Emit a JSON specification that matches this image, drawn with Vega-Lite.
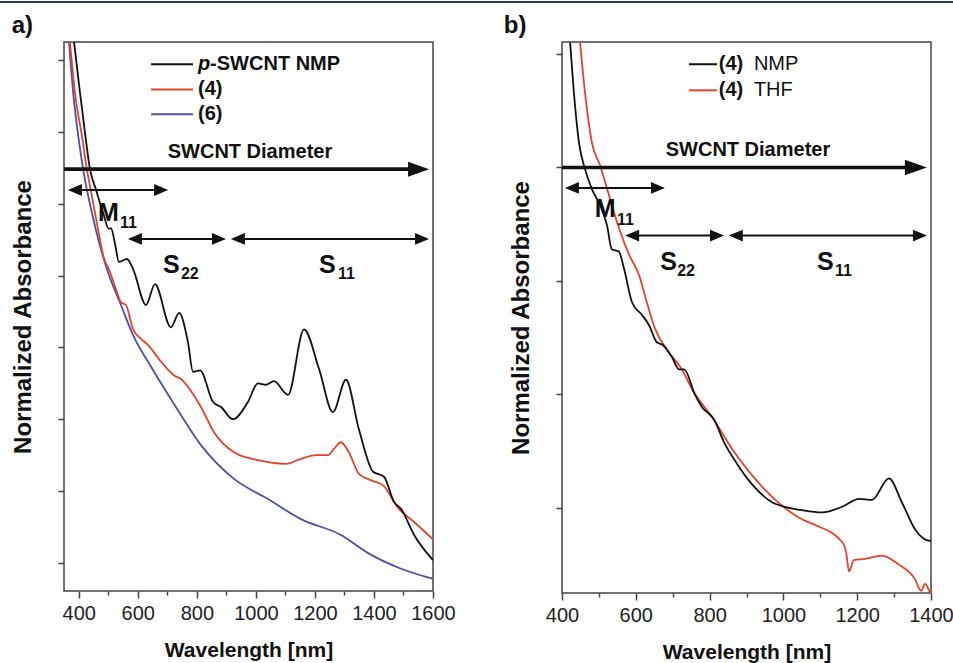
{
  "$schema": "https://vega.github.io/schema/vega-lite/v6.json",
  "padding": {"top": 1, "left": 0, "right": 0, "bottom": 0},
  "background": "white",
  "config": {
    "font": "Liberation Sans",
    "view": {"stroke": "#444444", "strokeWidth": 1.5}
  },
  "datasets": {
    "curvesA": [
      {"s": "(6)", "nm": 367, "v": 7.25}, {"s": "(6)", "nm": 381, "v": 6.55}, {"s": "(6)", "nm": 401, "v": 5.86}, {"s": "(6)", "nm": 418, "v": 5.40}, {"s": "(6)", "nm": 442, "v": 4.92}, {"s": "(6)", "nm": 469, "v": 4.46}, {"s": "(6)", "nm": 502, "v": 4.01}, {"s": "(6)", "nm": 543, "v": 3.59}, {"s": "(6)", "nm": 584, "v": 3.17}, {"s": "(6)", "nm": 645, "v": 2.73}, {"s": "(6)", "nm": 723, "v": 2.21}, {"s": "(6)", "nm": 814, "v": 1.64}, {"s": "(6)", "nm": 926, "v": 1.17}, {"s": "(6)", "nm": 1041, "v": 0.89}, {"s": "(6)", "nm": 1153, "v": 0.61}, {"s": "(6)", "nm": 1288, "v": 0.39}, {"s": "(6)", "nm": 1383, "v": 0.13}, {"s": "(6)", "nm": 1492, "v": -0.08}, {"s": "(6)", "nm": 1600, "v": -0.22},
      {"s": "(4)", "nm": 370, "v": 7.25}, {"s": "(4)", "nm": 387, "v": 6.55}, {"s": "(4)", "nm": 414, "v": 5.86}, {"s": "(4)", "nm": 425, "v": 5.54}, {"s": "(4)", "nm": 442, "v": 5.16}, {"s": "(4)", "nm": 465, "v": 4.65}, {"s": "(4)", "nm": 486, "v": 4.23}, {"s": "(4)", "nm": 502, "v": 4.09}, {"s": "(4)", "nm": 526, "v": 3.81}, {"s": "(4)", "nm": 543, "v": 3.63}, {"s": "(4)", "nm": 560, "v": 3.59}, {"s": "(4)", "nm": 577, "v": 3.35}, {"s": "(4)", "nm": 584, "v": 3.25}, {"s": "(4)", "nm": 611, "v": 3.12}, {"s": "(4)", "nm": 635, "v": 3.03}, {"s": "(4)", "nm": 679, "v": 2.80}, {"s": "(4)", "nm": 723, "v": 2.61}, {"s": "(4)", "nm": 746, "v": 2.56}, {"s": "(4)", "nm": 804, "v": 2.24}, {"s": "(4)", "nm": 814, "v": 2.17}, {"s": "(4)", "nm": 858, "v": 1.82}, {"s": "(4)", "nm": 926, "v": 1.54}, {"s": "(4)", "nm": 1007, "v": 1.43}, {"s": "(4)", "nm": 1102, "v": 1.38}, {"s": "(4)", "nm": 1153, "v": 1.45}, {"s": "(4)", "nm": 1204, "v": 1.50}, {"s": "(4)", "nm": 1244, "v": 1.50}, {"s": "(4)", "nm": 1265, "v": 1.59}, {"s": "(4)", "nm": 1288, "v": 1.68}, {"s": "(4)", "nm": 1315, "v": 1.54}, {"s": "(4)", "nm": 1349, "v": 1.24}, {"s": "(4)", "nm": 1390, "v": 1.15}, {"s": "(4)", "nm": 1431, "v": 1.08}, {"s": "(4)", "nm": 1481, "v": 0.77}, {"s": "(4)", "nm": 1536, "v": 0.57}, {"s": "(4)", "nm": 1600, "v": 0.33},
      {"s": "p-SWCNT NMP", "nm": 384, "v": 7.25}, {"s": "p-SWCNT NMP", "nm": 404, "v": 6.55}, {"s": "p-SWCNT NMP", "nm": 425, "v": 5.86}, {"s": "p-SWCNT NMP", "nm": 438, "v": 5.48}, {"s": "p-SWCNT NMP", "nm": 458, "v": 5.20}, {"s": "p-SWCNT NMP", "nm": 482, "v": 4.88}, {"s": "p-SWCNT NMP", "nm": 502, "v": 4.65}, {"s": "p-SWCNT NMP", "nm": 509, "v": 4.66}, {"s": "p-SWCNT NMP", "nm": 523, "v": 4.44}, {"s": "p-SWCNT NMP", "nm": 536, "v": 4.19}, {"s": "p-SWCNT NMP", "nm": 563, "v": 4.23}, {"s": "p-SWCNT NMP", "nm": 584, "v": 4.09}, {"s": "p-SWCNT NMP", "nm": 628, "v": 3.59}, {"s": "p-SWCNT NMP", "nm": 658, "v": 3.88}, {"s": "p-SWCNT NMP", "nm": 712, "v": 3.28}, {"s": "p-SWCNT NMP", "nm": 740, "v": 3.48}, {"s": "p-SWCNT NMP", "nm": 770, "v": 3.07}, {"s": "p-SWCNT NMP", "nm": 787, "v": 2.66}, {"s": "p-SWCNT NMP", "nm": 811, "v": 2.68}, {"s": "p-SWCNT NMP", "nm": 855, "v": 2.24}, {"s": "p-SWCNT NMP", "nm": 882, "v": 2.17}, {"s": "p-SWCNT NMP", "nm": 922, "v": 2.00}, {"s": "p-SWCNT NMP", "nm": 973, "v": 2.24}, {"s": "p-SWCNT NMP", "nm": 1007, "v": 2.50}, {"s": "p-SWCNT NMP", "nm": 1034, "v": 2.48}, {"s": "p-SWCNT NMP", "nm": 1061, "v": 2.53}, {"s": "p-SWCNT NMP", "nm": 1109, "v": 2.34}, {"s": "p-SWCNT NMP", "nm": 1163, "v": 3.25}, {"s": "p-SWCNT NMP", "nm": 1214, "v": 2.70}, {"s": "p-SWCNT NMP", "nm": 1261, "v": 2.10}, {"s": "p-SWCNT NMP", "nm": 1305, "v": 2.55}, {"s": "p-SWCNT NMP", "nm": 1349, "v": 1.86}, {"s": "p-SWCNT NMP", "nm": 1397, "v": 1.27}, {"s": "p-SWCNT NMP", "nm": 1434, "v": 1.20}, {"s": "p-SWCNT NMP", "nm": 1468, "v": 0.85}, {"s": "p-SWCNT NMP", "nm": 1492, "v": 0.75}, {"s": "p-SWCNT NMP", "nm": 1536, "v": 0.39}, {"s": "p-SWCNT NMP", "nm": 1600, "v": 0.04}
    ],
    "curvesB": [
      {"s": "(4) THF", "nm": 449, "v": 4.10}, {"s": "(4) THF", "nm": 462, "v": 3.67}, {"s": "(4) THF", "nm": 481, "v": 3.22}, {"s": "(4) THF", "nm": 503, "v": 3.02}, {"s": "(4) THF", "nm": 527, "v": 2.76}, {"s": "(4) THF", "nm": 555, "v": 2.46}, {"s": "(4) THF", "nm": 582, "v": 2.23}, {"s": "(4) THF", "nm": 609, "v": 2.05}, {"s": "(4) THF", "nm": 630, "v": 1.81}, {"s": "(4) THF", "nm": 652, "v": 1.58}, {"s": "(4) THF", "nm": 690, "v": 1.37}, {"s": "(4) THF", "nm": 725, "v": 1.22}, {"s": "(4) THF", "nm": 752, "v": 1.05}, {"s": "(4) THF", "nm": 815, "v": 0.76}, {"s": "(4) THF", "nm": 861, "v": 0.52}, {"s": "(4) THF", "nm": 907, "v": 0.32}, {"s": "(4) THF", "nm": 996, "v": 0.02}, {"s": "(4) THF", "nm": 1050, "v": -0.10}, {"s": "(4) THF", "nm": 1086, "v": -0.15}, {"s": "(4) THF", "nm": 1159, "v": -0.30}, {"s": "(4) THF", "nm": 1170, "v": -0.39}, {"s": "(4) THF", "nm": 1178, "v": -0.56}, {"s": "(4) THF", "nm": 1191, "v": -0.46}, {"s": "(4) THF", "nm": 1221, "v": -0.45}, {"s": "(4) THF", "nm": 1267, "v": -0.42}, {"s": "(4) THF", "nm": 1313, "v": -0.50}, {"s": "(4) THF", "nm": 1357, "v": -0.63}, {"s": "(4) THF", "nm": 1373, "v": -0.73}, {"s": "(4) THF", "nm": 1384, "v": -0.67}, {"s": "(4) THF", "nm": 1397, "v": -0.74}, {"s": "(4) THF", "nm": 1400, "v": -0.75},
      {"s": "(4) NMP", "nm": 422, "v": 4.10}, {"s": "(4) NMP", "nm": 432, "v": 3.67}, {"s": "(4) NMP", "nm": 446, "v": 3.22}, {"s": "(4) NMP", "nm": 462, "v": 2.99}, {"s": "(4) NMP", "nm": 481, "v": 2.81}, {"s": "(4) NMP", "nm": 503, "v": 2.67}, {"s": "(4) NMP", "nm": 522, "v": 2.49}, {"s": "(4) NMP", "nm": 535, "v": 2.28}, {"s": "(4) NMP", "nm": 554, "v": 2.26}, {"s": "(4) NMP", "nm": 568, "v": 2.11}, {"s": "(4) NMP", "nm": 590, "v": 1.81}, {"s": "(4) NMP", "nm": 617, "v": 1.70}, {"s": "(4) NMP", "nm": 636, "v": 1.61}, {"s": "(4) NMP", "nm": 657, "v": 1.46}, {"s": "(4) NMP", "nm": 671, "v": 1.44}, {"s": "(4) NMP", "nm": 698, "v": 1.33}, {"s": "(4) NMP", "nm": 717, "v": 1.22}, {"s": "(4) NMP", "nm": 731, "v": 1.22}, {"s": "(4) NMP", "nm": 760, "v": 1.00}, {"s": "(4) NMP", "nm": 779, "v": 0.89}, {"s": "(4) NMP", "nm": 812, "v": 0.78}, {"s": "(4) NMP", "nm": 839, "v": 0.58}, {"s": "(4) NMP", "nm": 874, "v": 0.39}, {"s": "(4) NMP", "nm": 920, "v": 0.19}, {"s": "(4) NMP", "nm": 969, "v": 0.05}, {"s": "(4) NMP", "nm": 1004, "v": 0.01}, {"s": "(4) NMP", "nm": 1050, "v": -0.02}, {"s": "(4) NMP", "nm": 1105, "v": -0.04}, {"s": "(4) NMP", "nm": 1159, "v": 0.01}, {"s": "(4) NMP", "nm": 1205, "v": 0.08}, {"s": "(4) NMP", "nm": 1240, "v": 0.07}, {"s": "(4) NMP", "nm": 1286, "v": 0.26}, {"s": "(4) NMP", "nm": 1321, "v": 0.05}, {"s": "(4) NMP", "nm": 1357, "v": -0.19}, {"s": "(4) NMP", "nm": 1397, "v": -0.29}, {"s": "(4) NMP", "nm": 1400, "v": -0.29}
    ],
    "bigLineA": [{"nm": 350, "nm2": 1551, "v": 5.48}],
    "bigHeadA": [{"nm": 1551, "v": 5.48}],
    "thinLinesA": [{"nm": 387, "nm2": 679, "v": 5.19}, {"nm": 590, "nm2": 875, "v": 4.51}, {"nm": 939, "nm2": 1563, "v": 4.51}],
    "headsA": [{"nm": 387, "v": 5.19, "dir": "left"}, {"nm": 679, "v": 5.19, "dir": "right"}, {"nm": 590, "v": 4.51, "dir": "left"}, {"nm": 875, "v": 4.51, "dir": "right"}, {"nm": 939, "v": 4.51, "dir": "left"}, {"nm": 1563, "v": 4.51, "dir": "right"}],
    "diamA": [{"t": "SWCNT Diameter", "nm": 980, "v": 5.72}],
    "lettersA": [{"t": "M", "nm": 465, "v": 4.87}, {"t": "S", "nm": 685, "v": 4.14}, {"t": "S", "nm": 1214, "v": 4.14}],
    "subsA": [{"t": "11", "nm": 540, "v": 4.73}, {"t": "22", "nm": 746, "v": 4.02}, {"t": "11", "nm": 1278, "v": 4.02}],
    "legLinesA": [{"s": "p-SWCNT NMP", "nm": 645, "nm2": 787, "v": 6.94}, {"s": "(4)", "nm": 645, "nm2": 787, "v": 6.59}, {"s": "(6)", "nm": 645, "nm2": 787, "v": 6.245}],
    "legTextA": [{"t": "-SWCNT NMP", "nm": 845, "v": 6.94}, {"t": "(4)", "nm": 804, "v": 6.59}, {"t": "(6)", "nm": 804, "v": 6.245}],
    "legItalicA": [{"t": "p", "nm": 804, "v": 6.94}],
    "bigLineB": [{"nm": 400, "nm2": 1359, "v": 3.0}],
    "bigHeadB": [{"nm": 1359, "v": 3.0}],
    "thinLinesB": [{"nm": 427, "nm2": 660, "v": 2.82}, {"nm": 590, "nm2": 820, "v": 2.40}, {"nm": 871, "nm2": 1370, "v": 2.40}],
    "headsB": [{"nm": 427, "v": 2.82, "dir": "left"}, {"nm": 660, "v": 2.82, "dir": "right"}, {"nm": 590, "v": 2.40, "dir": "left"}, {"nm": 820, "v": 2.40, "dir": "right"}, {"nm": 871, "v": 2.40, "dir": "left"}, {"nm": 1370, "v": 2.40, "dir": "right"}],
    "diamB": [{"t": "SWCNT Diameter", "nm": 904, "v": 3.15}],
    "lettersB": [{"t": "M", "nm": 489, "v": 2.63}, {"t": "S", "nm": 666, "v": 2.17}, {"t": "S", "nm": 1091, "v": 2.17}],
    "subsB": [{"t": "11", "nm": 549, "v": 2.54}, {"t": "22", "nm": 712, "v": 2.09}, {"t": "11", "nm": 1140, "v": 2.09}],
    "legLinesB": [{"s": "(4) NMP", "nm": 744, "nm2": 820, "v": 3.91}, {"s": "(4) THF", "nm": 744, "nm2": 820, "v": 3.68}],
    "legBoldB": [{"t": "(4)", "nm": 825, "v": 3.91}, {"t": "(4)", "nm": 825, "v": 3.68}],
    "legPlainB": [{"t": "NMP", "nm": 920, "v": 3.91}, {"t": "THF", "nm": 920, "v": 3.68}]
  },
  "spacing": 10,
  "vconcat": [
    {
      "width": 953,
      "height": 2,
      "data": {"values": [{"a": 0}]},
      "mark": {"type": "point", "opacity": 0, "size": 1},
      "encoding": {},
      "view": {"fill": "#283579", "stroke": null}
    },
    {
      "spacing": 10,
      "resolve": {"scale": {"color": "independent", "shape": "independent", "x": "independent", "y": "independent"}},
      "hconcat": [
        {
          "width": 1,
          "height": 1,
          "data": {"values": [{"a": 0}]},
          "mark": {"type": "point", "opacity": 0, "size": 1},
          "encoding": {},
          "view": {"stroke": null}
        },
        {
          "spacing": 47,
          "resolve": {"scale": {"color": "independent", "shape": "independent", "x": "independent", "y": "independent"}},
          "hconcat": [
            {
              "width": 369,
              "height": 549,
              "title": {"text": "a)", "anchor": "start", "frame": "bounds", "fontSize": 24, "fontWeight": "bold", "offset": -15, "baseline": "alphabetic", "color": "#111111"},
              "encoding": {
                "x": {"field": "nm", "type": "quantitative", "scale": {"domain": [350, 1600], "nice": false, "zero": false},
                  "axis": {"values": [400, 500, 600, 700, 800, 900, 1000, 1100, 1200, 1300, 1400, 1500, 1600], "format": "d", "labelExpr": "datum.value % 200 == 0 ? datum.label : ''", "tickSize": {"condition": {"test": "datum.value % 200 == 0", "value": 7}, "value": 4}, "tickWidth": 1.5, "tickColor": "#444444", "domain": false, "grid": false, "labelFontSize": 20, "labelPadding": 5, "labelColor": "#222222", "labelFlush": false, "labelOverlap": false, "title": "Wavelength [nm]", "titleFontSize": 21, "titleFontWeight": "bold", "titlePadding": 16, "titleColor": "#111111"}},
                "y": {"field": "v", "type": "quantitative", "scale": {"domain": [-0.39, 7.25], "nice": false, "zero": false},
                  "axis": {"values": [0, 1, 2, 3, 4, 5, 6, 7], "labels": false, "tickSize": 6, "tickWidth": 1.5, "tickColor": "#444444", "domain": false, "grid": false, "title": "Normalized Absorbance", "titleFontSize": 24, "titleFontWeight": "bold", "titlePadding": 21.5, "titleColor": "#111111"}}
              },
              "layer": [
                {"data": {"name": "curvesA"}, "mark": {"type": "line", "interpolate": "monotone", "strokeWidth": 1.8, "clip": true},
                  "encoding": {"color": {"field": "s", "type": "nominal", "scale": {"domain": ["(6)", "(4)", "p-SWCNT NMP"], "range": ["#4f4fa8", "#e2432f", "#111111"]}, "legend": null}}},
                {"data": {"name": "bigLineA"}, "mark": {"type": "rule", "strokeWidth": 3.7, "color": "#111111"}, "encoding": {"x2": {"field": "nm2"}}},
                {"data": {"name": "bigHeadA"}, "mark": {"type": "point", "shape": "M1,0L-1,-0.714L-1,0.714Z", "size": 441, "filled": true, "opacity": 1, "color": "#111111"}},
                {"data": {"name": "thinLinesA"}, "mark": {"type": "rule", "strokeWidth": 2, "color": "#111111"}, "encoding": {"x2": {"field": "nm2"}}},
                {"data": {"name": "headsA"}, "mark": {"type": "point", "size": 196, "filled": true, "opacity": 1, "color": "#111111"},
                  "encoding": {"shape": {"field": "dir", "type": "nominal", "scale": {"domain": ["left", "right"], "range": ["M-1,0L1,-0.85L1,0.85Z", "M1,0L-1,-0.85L-1,0.85Z"]}, "legend": null}}},
                {"data": {"name": "diamA"}, "mark": {"type": "text", "fontSize": 20, "fontWeight": "bold", "align": "center", "baseline": "middle", "color": "#111111"}, "encoding": {"text": {"field": "t"}}},
                {"data": {"name": "lettersA"}, "mark": {"type": "text", "fontSize": 25, "fontWeight": "bold", "align": "left", "baseline": "middle", "color": "#111111"}, "encoding": {"text": {"field": "t"}}},
                {"data": {"name": "subsA"}, "mark": {"type": "text", "fontSize": 16, "fontWeight": "bold", "align": "left", "baseline": "middle", "color": "#111111"}, "encoding": {"text": {"field": "t"}}},
                {"data": {"name": "legLinesA"}, "mark": {"type": "rule", "strokeWidth": 2},
                  "encoding": {"x2": {"field": "nm2"}, "color": {"field": "s", "type": "nominal", "scale": {"domain": ["(6)", "(4)", "p-SWCNT NMP"], "range": ["#4f4fa8", "#e2432f", "#111111"]}, "legend": null}}},
                {"data": {"name": "legTextA"}, "mark": {"type": "text", "fontSize": 20, "fontWeight": "bold", "align": "left", "baseline": "middle", "color": "#111111"}, "encoding": {"text": {"field": "t"}}},
                {"data": {"name": "legItalicA"}, "mark": {"type": "text", "fontSize": 20, "fontWeight": "bold", "fontStyle": "italic", "align": "left", "baseline": "middle", "color": "#111111"}, "encoding": {"text": {"field": "t"}}}
              ]
            },
            {
              "width": 369,
              "height": 551,
              "title": {"text": "b)", "anchor": "start", "frame": "bounds", "fontSize": 24, "fontWeight": "bold", "offset": -15, "baseline": "alphabetic", "color": "#111111", "dx": -6},
              "encoding": {
                "x": {"field": "nm", "type": "quantitative", "scale": {"domain": [400, 1400], "nice": false, "zero": false},
                  "axis": {"values": [400, 500, 600, 700, 800, 900, 1000, 1100, 1200, 1300, 1400], "format": "d", "labelExpr": "datum.value % 200 == 0 ? datum.label : ''", "tickSize": {"condition": {"test": "datum.value % 200 == 0", "value": 7}, "value": 4}, "tickWidth": 1.5, "tickColor": "#444444", "domain": false, "grid": false, "labelFontSize": 20, "labelPadding": 5, "labelColor": "#222222", "labelFlush": false, "labelOverlap": false, "title": "Wavelength [nm]", "titleFontSize": 21, "titleFontWeight": "bold", "titlePadding": 16, "titleColor": "#111111"}},
                "y": {"field": "v", "type": "quantitative", "scale": {"domain": [-0.75, 4.106], "nice": false, "zero": false},
                  "axis": {"values": [0, 1, 2, 3, 4], "labels": false, "tickSize": 6, "tickWidth": 1.5, "tickColor": "#444444", "domain": false, "grid": false, "title": "Normalized Absorbance", "titleFontSize": 24, "titleFontWeight": "bold", "titlePadding": 21.5, "titleColor": "#111111"}}
              },
              "layer": [
                {"data": {"name": "curvesB"}, "mark": {"type": "line", "interpolate": "monotone", "strokeWidth": 1.8, "clip": true},
                  "encoding": {"color": {"field": "s", "type": "nominal", "scale": {"domain": ["(4) THF", "(4) NMP"], "range": ["#e2432f", "#111111"]}, "legend": null}}},
                {"data": {"name": "bigLineB"}, "mark": {"type": "rule", "strokeWidth": 3.7, "color": "#111111"}, "encoding": {"x2": {"field": "nm2"}}},
                {"data": {"name": "bigHeadB"}, "mark": {"type": "point", "shape": "M1,0L-1,-0.714L-1,0.714Z", "size": 484, "filled": true, "opacity": 1, "color": "#111111"}},
                {"data": {"name": "thinLinesB"}, "mark": {"type": "rule", "strokeWidth": 2, "color": "#111111"}, "encoding": {"x2": {"field": "nm2"}}},
                {"data": {"name": "headsB"}, "mark": {"type": "point", "size": 196, "filled": true, "opacity": 1, "color": "#111111"},
                  "encoding": {"shape": {"field": "dir", "type": "nominal", "scale": {"domain": ["left", "right"], "range": ["M-1,0L1,-0.85L1,0.85Z", "M1,0L-1,-0.85L-1,0.85Z"]}, "legend": null}}},
                {"data": {"name": "diamB"}, "mark": {"type": "text", "fontSize": 20, "fontWeight": "bold", "align": "center", "baseline": "middle", "color": "#111111"}, "encoding": {"text": {"field": "t"}}},
                {"data": {"name": "lettersB"}, "mark": {"type": "text", "fontSize": 25, "fontWeight": "bold", "align": "left", "baseline": "middle", "color": "#111111"}, "encoding": {"text": {"field": "t"}}},
                {"data": {"name": "subsB"}, "mark": {"type": "text", "fontSize": 16, "fontWeight": "bold", "align": "left", "baseline": "middle", "color": "#111111"}, "encoding": {"text": {"field": "t"}}},
                {"data": {"name": "legLinesB"}, "mark": {"type": "rule", "strokeWidth": 2},
                  "encoding": {"x2": {"field": "nm2"}, "color": {"field": "s", "type": "nominal", "scale": {"domain": ["(4) THF", "(4) NMP"], "range": ["#e2432f", "#111111"]}, "legend": null}}},
                {"data": {"name": "legBoldB"}, "mark": {"type": "text", "fontSize": 20, "fontWeight": "bold", "align": "left", "baseline": "middle", "color": "#111111"}, "encoding": {"text": {"field": "t"}}},
                {"data": {"name": "legPlainB"}, "mark": {"type": "text", "fontSize": 20, "fontWeight": "normal", "align": "left", "baseline": "middle", "color": "#111111"}, "encoding": {"text": {"field": "t"}}}
              ]
            }
          ]
        }
      ]
    }
  ]
}
